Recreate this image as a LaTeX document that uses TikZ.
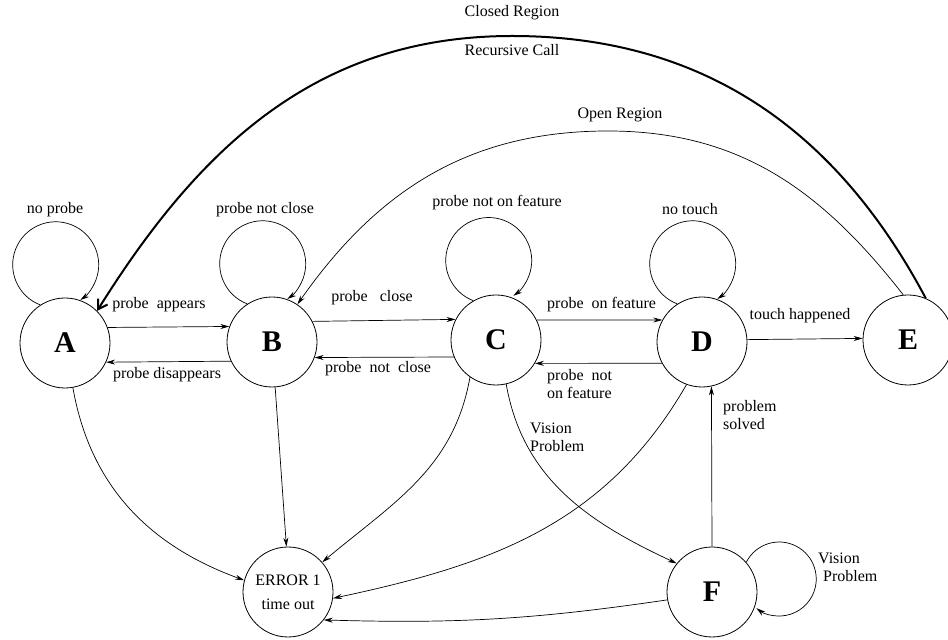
\documentclass[tikz,border=0pt]{standalone}
\usepackage{fontspec}
\setmainfont{Liberation Serif}
\usetikzlibrary{arrows.meta}
\begin{document}
\begin{tikzpicture}[x=1pt,y=1pt,
  state/.style={circle,draw,line width=0.8pt,minimum size=90pt,inner sep=0pt,font=\fontsize{30}{30}\selectfont\bfseries},
  lbl/.style={font=\fontsize{16}{18}\selectfont,inner sep=0pt},
  edge/.style={line width=0.7pt,-{Stealth[length=9pt,width=5pt,inset=3pt]}},
  thickedge/.style={line width=2pt,-{Straight Barb[length=9pt,width=11pt]}}]
\useasboundingbox (0,0) rectangle (948,640);
% states
\node[state] (A) at (65,297) {A};
\node[state] (B) at (272,298) {B};
\node[state] (C) at (496,300) {C};
\node[state] (D) at (702,298) {D};
\node[state] (E) at (908,300) {E};
\node[state,font=\fontsize{16}{24}\selectfont,align=center] (ERR) at (288,48) {ERROR 1\\time out};
\node[state] (F) at (712,48) {F};
% self loops
\draw[edge] (A.123) arc[start angle=249,end angle=-55,radius=43pt];
\draw[edge] (B.123) arc[start angle=249,end angle=-55,radius=43pt];
\draw[edge] (C.120) arc[start angle=249,end angle=-55,radius=43pt];
\draw[edge] (D.123) arc[start angle=249,end angle=-55,radius=43pt];
\draw[edge] (F.41) arc[start angle=153,end angle=-128,radius=37pt];
\node[lbl] (lA) at (55,430) {no probe};
\node[lbl] (lB) at (265,430) {probe not close};
\node[lbl] (lC) at (497,437) {probe not on feature};
\node[lbl] (lD) at (690,431) {no touch};
\node[lbl,align=left,anchor=west] (lF) at (818,73) {Vision\\\hspace*{5pt}Problem};
% horizontal transitions
\draw[edge] (A.20) -- (B.160);
\draw[edge] (B.205) -- (A.-25);
\draw[edge] (B.27) -- (C.153);
\draw[edge] (C.202) -- (B.-20);
\draw[edge] (C.26) -- (D.151);
\draw[edge] (D.208) -- (C.-31);
\draw[edge] (D.3) -- (E.178);
\node[lbl] (l1) at (159,335) {probe\ \ appears};
\node[lbl] (l2) at (167,265) {probe disappears};
\node[lbl] (l3) at (372,342) {probe\ \ \ close};
\node[lbl] (l4) at (378,271) {probe\ \ not\ \ close};
\node[lbl,anchor=west] (l5) at (547,335) {probe\ \ on feature};
\node[lbl,anchor=west,align=left] (l6) at (547,256) {probe\ \ not\\on feature};
\node[lbl] (l7) at (800,324) {touch happened};
% to error / F
\draw[edge] (A.-80) to[out=-80,in=160] (ERR.165);
\draw[edge] (B.-86) -- (ERR.92);
\draw[edge] (C.235) to[out=-100,in=40] (ERR.41);
\draw[edge] (C.-77) to[out=-80,in=155] (F.141);
\draw[edge] (D.250) to[out=-120,in=12] (ERR.-8);
\draw[edge] (F.190) to[bend left=5] (ERR.-38);
\draw[edge] (F.north) -- (D.-78);
\node[lbl,anchor=west,align=left] (l8) at (530,203) {Vision\\Problem};
\node[lbl,anchor=west,align=left] (l9) at (723,225) {problem\\solved};
% big arcs
\coordinate (ctop) at (512,604);
\coordinate (otop) at (608,509);
\draw[thickedge] (E.67) to[out=118,in=0] (ctop) to[out=180,in=58] (A.45);
\draw[edge] (E.96) to[out=128,in=0] (otop) to[out=180,in=55] (B.56);
\node[lbl] (l10) at (512,627) {Closed Region};
\node[lbl] (l11) at (512,590) {Recursive Call};
\node[lbl] (l12) at (620,525) {Open Region};
\end{tikzpicture}
\end{document}
